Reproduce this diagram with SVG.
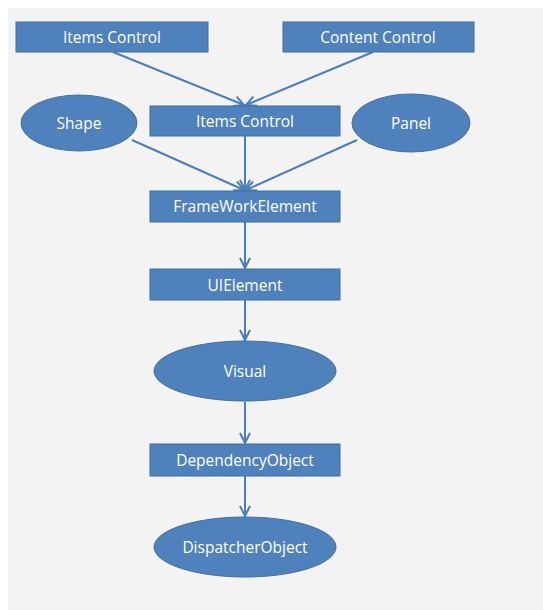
<svg xmlns="http://www.w3.org/2000/svg" width="543" height="610" viewBox="0 0 543 610">
<defs>
<style>
.box{fill:#4f81bd;stroke:#41719c;stroke-width:1}
.lbl{fill:#ffffff;font-family:"Open Sans","Liberation Sans",sans-serif;font-size:15.5px;text-anchor:middle}
.con{stroke:#4a7ebb;stroke-width:2;fill:none;marker-end:url(#arr)}
</style>
<marker id="arr" viewBox="0 0 12 12" refX="11" refY="6" markerWidth="12" markerHeight="12" markerUnits="userSpaceOnUse" orient="auto">
<path d="M1,1 L11,6 L1,11" fill="none" stroke="#4a7ebb" stroke-width="2"/>
</marker>
</defs>
<rect width="543" height="610" fill="#ffffff"/>
<rect x="8" y="8" width="535" height="602" fill="#f3f3f3"/>
<g id="connectors">
<line class="con" x1="113" y1="52" x2="244" y2="105"/>
<line class="con" x1="373" y1="52" x2="246" y2="105"/>
<line class="con" x1="132" y1="140" x2="244" y2="190"/>
<line class="con" x1="357" y1="140" x2="246" y2="190"/>
<line class="con" x1="245" y1="136" x2="245" y2="190"/>
<line class="con" x1="245" y1="222" x2="245" y2="268"/>
<line class="con" x1="245" y1="300" x2="245" y2="340"/>
<line class="con" x1="245" y1="402" x2="245" y2="443"/>
<line class="con" x1="245" y1="476" x2="245" y2="516"/>
</g>
<g id="items-control-top"><rect class="box" x="16" y="22" width="192" height="30"/><text class="lbl" x="112" y="42.5">Items Control</text></g>
<g id="content-control"><rect class="box" x="283" y="22" width="191" height="30"/><text class="lbl" x="378" y="42.5">Content Control</text></g>
<g id="items-control"><rect class="box" x="150" y="106" width="190" height="30"/><text class="lbl" x="245" y="126.5">Items Control</text></g>
<g id="shape"><ellipse class="box" cx="79" cy="123" rx="58" ry="28"/><text class="lbl" x="79" y="128.5">Shape</text></g>
<g id="panel"><ellipse class="box" cx="411" cy="123" rx="59" ry="29"/><text class="lbl" x="411" y="128.5">Panel</text></g>
<g id="framework-element"><rect class="box" x="150" y="191" width="190" height="31"/><text class="lbl" x="245" y="212">FrameWorkElement</text></g>
<g id="ui-element"><rect class="box" x="150" y="269" width="190" height="31"/><text class="lbl" x="245" y="290.5">UIElement</text></g>
<g id="visual"><ellipse class="box" cx="245" cy="371" rx="91" ry="30"/><text class="lbl" x="245" y="376.5">Visual</text></g>
<g id="dependency-object"><rect class="box" x="150" y="444" width="190" height="32"/><text class="lbl" x="245" y="465.5">DependencyObject</text></g>
<g id="dispatcher-object"><ellipse class="box" cx="245" cy="547" rx="91" ry="30"/><text class="lbl" x="245" y="552.5">DispatcherObject</text></g>
</svg>
